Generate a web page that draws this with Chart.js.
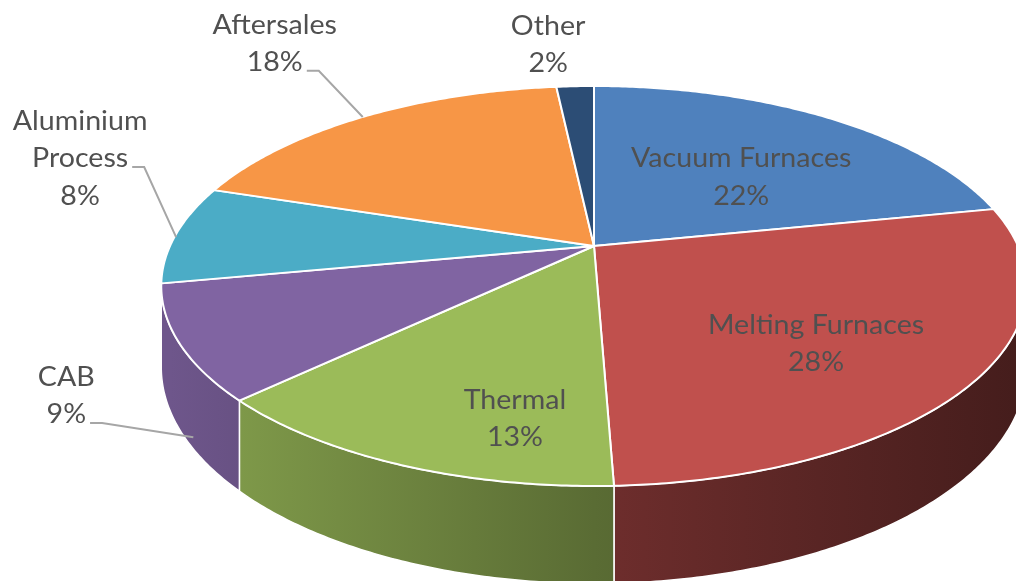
<!DOCTYPE html>
<html>
<head>
<meta charset="utf-8">
<script src="https://cdn.jsdelivr.net/npm/chart.js@4.4.1/dist/chart.umd.min.js"></script>
<style>
  html, body { margin: 0; padding: 0; background: #fff; }
  #wrap { width: 1016px; height: 581px; }
</style>
</head>
<body>
<div id="wrap"><canvas id="pie-chart"></canvas></div>
<script>
const segments = ["Vacuum Furnaces", "Melting Furnaces", "Thermal", "CAB", "Aluminium Process", "Aftersales", "Other"];
const shares = [21.8, 27.6, 13.4, 9.2, 8.0, 18.3, 1.7];
const labelLines = [["Vacuum Furnaces"], ["Melting Furnaces"], ["Thermal"], ["CAB"], ["Aluminium", "Process"], ["Aftersales"], ["Other"]];
const colors = ["#4F81BD", "#C0504D", "#9BBB59", "#8064A2", "#4BACC6", "#F79646", "#2C4D75"];

// label placement, relative to the slice (inside: point at radius r, outside: rim point)
const labelPlacement = [
  { inside: true, r: 0.6, dx: 0, dy: 13 },
  { inside: true, r: 0.6, dx: 6, dy: 21 },
  { inside: true, r: 0.6, dx: 28, dy: 53 },
  { inside: false, dx: -113, dy: 53, endDx: 14, endDy: 94, leaderLine: 1 },
  { inside: false, dx: -96, dy: -75, endDx: 0, endDy: 3, leaderLine: 1 },
  { inside: false, dx: -88, dy: -73, endDx: 0, endDy: 0, leaderLine: 1 },
  { inside: false, dx: -27, dy: -41, endDx: 0, endDy: 0, leaderLine: -1 },
];

function shade(hex, f) {
  const n = parseInt(hex.slice(1), 16);
  const r = Math.round(((n >> 16) & 255) * f);
  const g = Math.round(((n >> 8) & 255) * f);
  const b = Math.round((n & 255) * f);
  return `rgb(${r},${g},${b})`;
}

const pie3d = {
  id: "pie3d",
  beforeDatasetsDraw(chart, args, opts) {
    const ctx = chart.ctx;
    const meta = chart.getDatasetMeta(0);
    const { cx, cy, rx, ry, k, depth } = opts;

    const proj = (a, r, down) => {
      const u = r * Math.cos(a), v = r * Math.sin(a);
      const s = 1 / (1 - k * v);
      return { x: cx + rx * u * s, y: cy + ry * v * s + (down ? depth * s : 0) };
    };
    chart.$proj = proj;

    const arcs = meta.data.map((el) => el.getProps(["startAngle", "endAngle"], true));
    chart.$arcs = arcs;
    const lo = Math.asin(k), hi = Math.PI - Math.asin(k);

    ctx.save();
    ctx.lineJoin = "round";
    // side walls
    arcs.forEach((arc, i) => {
      const a1 = Math.max(arc.startAngle, lo), a2 = Math.min(arc.endAngle, hi);
      if (a2 <= a1) return;
      const steps = Math.max(4, Math.ceil((a2 - a1) / 0.01));
      ctx.beginPath();
      for (let j = 0; j <= steps; j++) {
        const p = proj(a1 + (a2 - a1) * j / steps, 1, false);
        j === 0 ? ctx.moveTo(p.x, p.y) : ctx.lineTo(p.x, p.y);
      }
      for (let j = steps; j >= 0; j--) {
        const p = proj(a1 + (a2 - a1) * j / steps, 1, true);
        ctx.lineTo(p.x, p.y);
      }
      ctx.closePath();
      const g = ctx.createLinearGradient(cx - rx, 0, cx + rx, 0);
      g.addColorStop(0, shade(colors[i], 0.86));
      g.addColorStop(0.5, shade(colors[i], 0.58));
      g.addColorStop(1, shade(colors[i], 0.36));
      ctx.fillStyle = g;
      ctx.fill();
      ctx.strokeStyle = "#ffffff";
      ctx.lineWidth = 1.5;
      ctx.stroke();
    });

    // top faces
    arcs.forEach((arc, i) => {
      const a1 = arc.startAngle, a2 = arc.endAngle;
      const steps = Math.max(4, Math.ceil((a2 - a1) / 0.01));
      ctx.beginPath();
      ctx.moveTo(cx, cy);
      for (let j = 0; j <= steps; j++) {
        const p = proj(a1 + (a2 - a1) * j / steps, 1, false);
        ctx.lineTo(p.x, p.y);
      }
      ctx.closePath();
      ctx.fillStyle = colors[i];
      ctx.fill();
      ctx.strokeStyle = "#ffffff";
      ctx.lineWidth = 2;
      ctx.stroke();
    });
    ctx.restore();
    return false;
  },
  afterDraw(chart, args, opts) {
    const ctx = chart.ctx;
    const proj = chart.$proj;
    const arcs = chart.$arcs;
    if (!proj || !arcs) return;
    const lineHeight = opts.lineHeight;
    const sx = opts.stretch;
    ctx.save();
    ctx.font = opts.font;
    ctx.fillStyle = opts.textColor;
    ctx.textAlign = "center";
    ctx.textBaseline = "middle";
    arcs.forEach((arc, i) => {
      const place = labelPlacement[i];
      const mid = (arc.startAngle + arc.endAngle) / 2;
      const lines = labelLines[i].concat([Math.round(shares[i]) + "%"]);
      const base = proj(mid, place.inside ? place.r : 1, false);
      const tx = base.x + place.dx, ty = base.y + place.dy;
      const top = ty - (lines.length - 1) * lineHeight / 2;
      lines.forEach((t, j) => {
        ctx.save();
        ctx.translate(tx, top + j * lineHeight);
        ctx.scale(sx, 1);
        ctx.fillText(t, 0, 0);
        ctx.restore();
      });
      if (!place.inside && place.leaderLine >= 0) {
        const idx = Math.min(place.leaderLine, lines.length - 1);
        const w = ctx.measureText(lines[idx]).width * sx;
        const ly = top + idx * lineHeight + 8;
        const lx = tx + w / 2 + 4;
        ctx.beginPath();
        ctx.moveTo(lx, ly);
        ctx.lineTo(lx + 12, ly);
        ctx.lineTo(base.x + place.endDx, base.y + place.endDy);
        ctx.strokeStyle = "#a6a6a6";
        ctx.lineWidth = 2;
        ctx.stroke();
      }
    });
    ctx.restore();
  },
};

const ctx = document.getElementById("pie-chart").getContext("2d");

new Chart(ctx, {
  type: "pie",
  data: {
    labels: segments,
    datasets: [
      {
        data: shares,
        backgroundColor: colors,
        borderColor: "#ffffff",
        borderWidth: 2,
      },
    ],
  },
  options: {
    responsive: true,
    maintainAspectRatio: false,
    animation: false,
    events: [],
    plugins: {
      legend: { display: false },
      tooltip: { enabled: false },
      pie3d: {
        cx: 594,
        cy: 246,
        rx: 424,
        ry: 192,
        k: 0.2,
        depth: 78,
        font: "26px Lato",
        stretch: 1.1,
        textColor: "#505050",
        lineHeight: 37.5,
      },
    },
  },
  plugins: [pie3d],
});
</script>
</body>
</html>
